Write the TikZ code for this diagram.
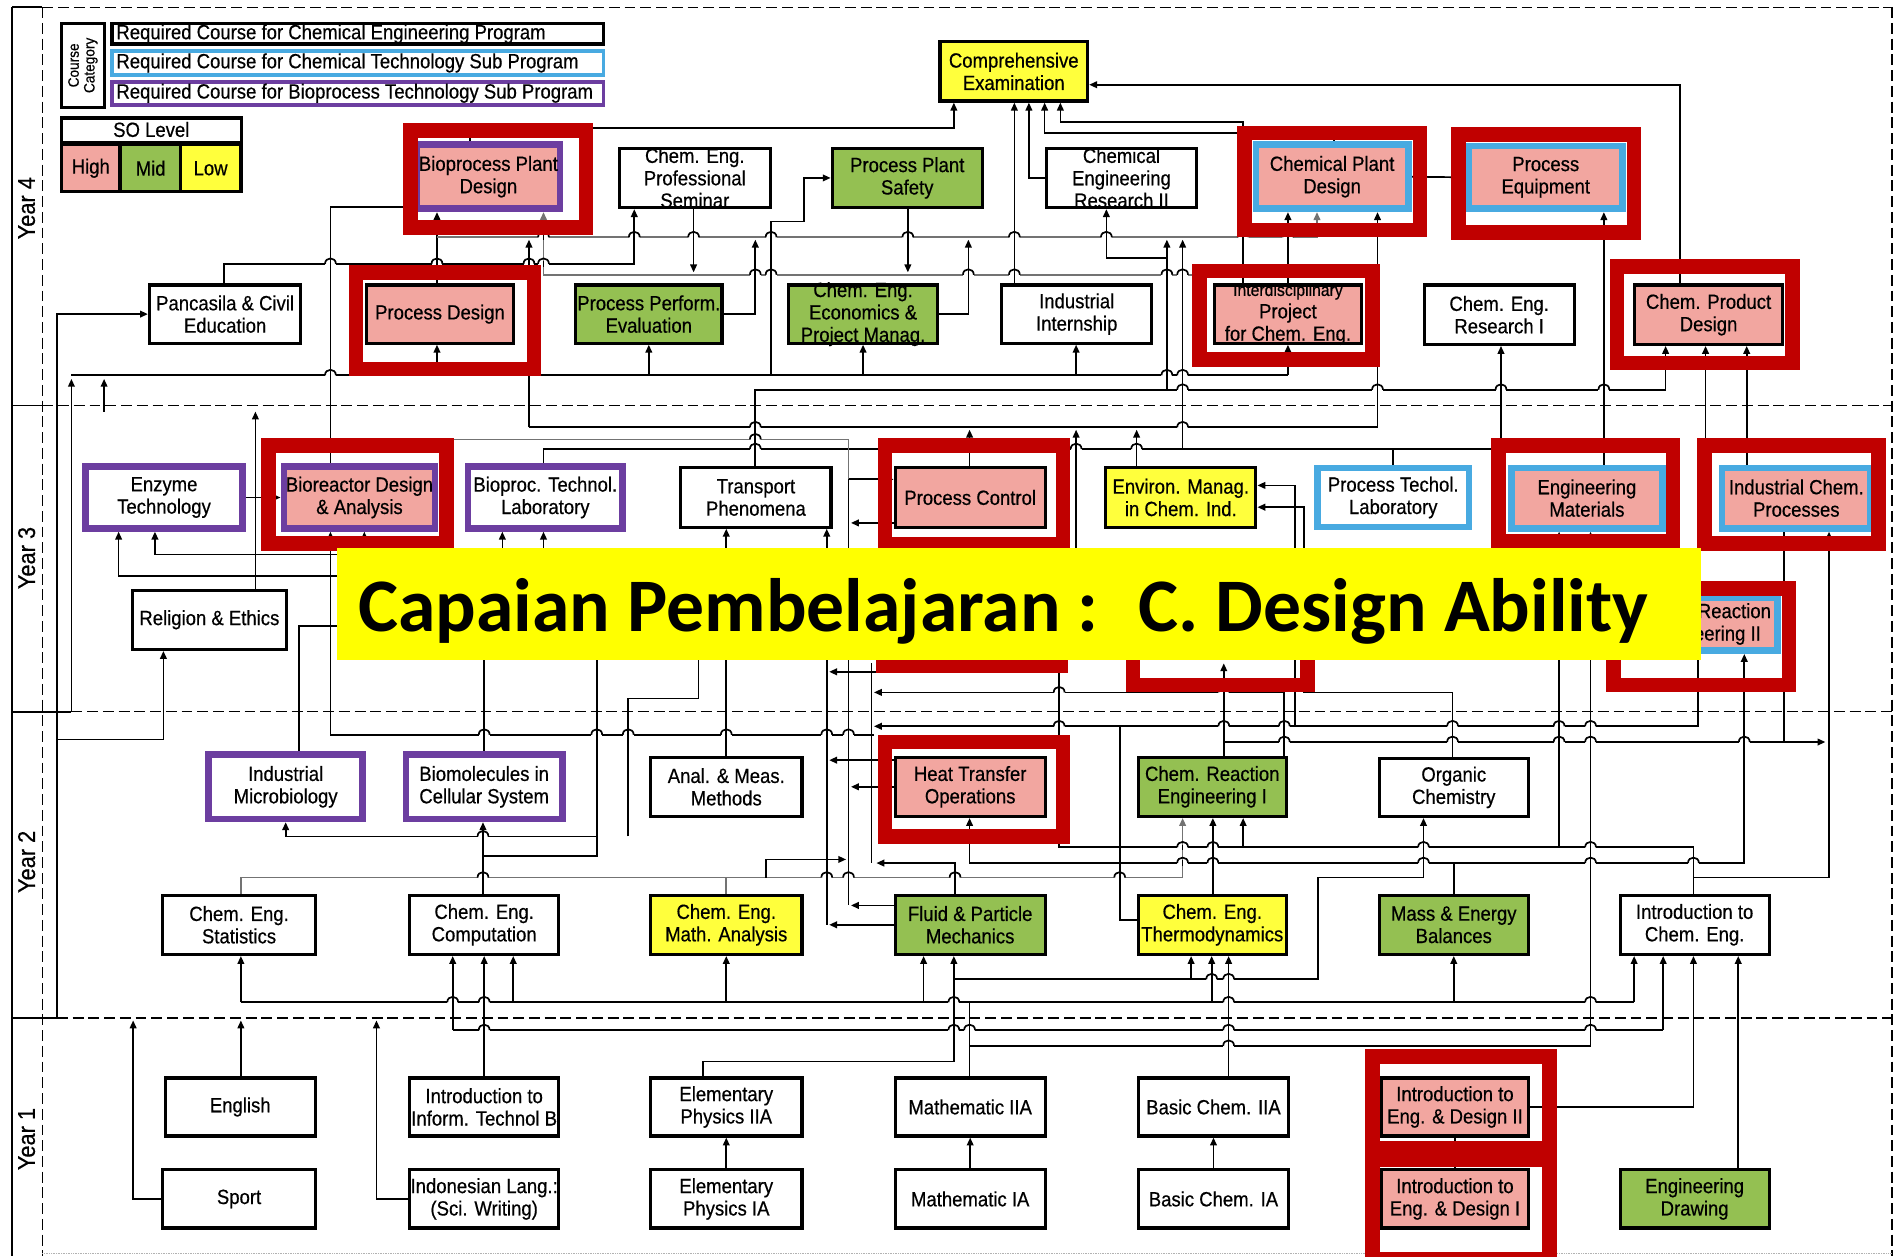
\documentclass[tikz,border=0pt]{standalone}
\usepackage{fontspec}
\setmainfont{Liberation Sans}[FakeStretch=0.9, FakeBold=0.5]
\newfontfamily\bannerfont{Carlito}
\usetikzlibrary{arrows.meta}
\pgfdeclarelayer{bg}
\pgfsetlayers{bg,main}

\definecolor{hi}{RGB}{242,166,160}
\definecolor{mid}{RGB}{148,192,82}
\definecolor{lo}{RGB}{255,255,60}
\definecolor{bluec}{RGB}{72,170,225}
\definecolor{purp}{RGB}{108,62,160}
\definecolor{redb}{RGB}{192,0,0}
\definecolor{busc}{RGB}{115,115,115}
\definecolor{ban}{RGB}{255,255,0}

\tikzset{
  crs/.style={draw=black, line width=2.6pt, inner sep=0pt},
  chem/.style={crs, draw=bluec, line width=5.5pt},
  bio/.style={crs, draw=purp, line width=5.5pt},
  txt/.style={align=center, font=\fontsize{17}{18.5}\selectfont, inner sep=0pt},
  lg/.style={font=\fontsize{17}{18}\selectfont, inner sep=0pt},
  ln/.style={line width=1.4pt, draw=black},
  gl/.style={line width=1.4pt, draw=busc},
  ar/.style={ln, -{Triangle[length=6.5pt,width=5.5pt]}},
  gar/.style={gl, -{Triangle[length=6.5pt,width=5.5pt]}},
  hl/.style={draw=redb, line width=12pt},
  dl/.style={line width=1.2pt, dash pattern=on 9pt off 4pt},
  yr/.style={rotate=90, font=\fontsize{20}{20}\selectfont},
}

% course box given by its corners, with its label on top
\newcommand\course[7]{%
  \node[#2, minimum width={#5pt-#3pt-3pt}, minimum height={#6pt-#4pt-3pt}] (#1) at ({(#3+#5)/2},{(#4+#6)/2}) {};
  \node[txt] (#1t) at (#1.center) {#7};}
% thick red frame given by its outer corners
\newcommand\hlbox[4]{\draw[hl] ({#1+6},{#2+6}) rectangle ({#3-6},{#4-6});}
% small bump where a horizontal line jumps over a vertical one
\newcommand\hop[2]{%
  \fill[white] ({#1-4.5},{#2-1.6}) rectangle ({#1+4.5},{#2+1.6});
  \draw[ln] ({#1-4.5},#2) .. controls ({#1-4.5},{#2-6}) and ({#1+4.5},{#2-6}) .. ({#1+4.5},#2);
  \draw[ln] (#1,{#2-2.2}) -- (#1,{#2+2.2});}

\begin{document}
\begin{tikzpicture}[x=1pt,y=-1pt]
\useasboundingbox (0,0) rectangle (1568,1038);

% ---------- frame and year bands ----------
\begin{pgfonlayer}{bg}
\fill[white] (0,0) rectangle (1568,1038);
\draw[line width=1.3pt] (10,6) -- (10,1038);
\draw[dl] (35,6) -- (35,1038);
\draw[line width=1.3pt] (10,6) -- (35,6);
\draw[dl] (35,6) -- (1563,6);
\draw[dl] (1563,6) -- (1563,1038);
\draw[line width=1.3pt] (10,335) -- (35,335);
\draw[dl] (35,335) -- (1563,335);
\draw[line width=1.3pt] (10,588) -- (59,588);
\draw[dl] (59,588) -- (1563,588);
\draw[line width=1.3pt] (10,841) -- (47,841);
\draw[dl] (47,841) -- (1563,841);
\draw[densely dotted, gray!60] (35,1035) -- (1563,1035);
\end{pgfonlayer}
\node[yr] (y4) at (22,172) {Year 4};
\node[yr] (y3) at (22,461) {Year 3};
\node[yr] (y2) at (22,712) {Year 2};
\node[yr] (y1) at (22,941) {Year 1};

% ---------- legend ----------
\node[draw, line width=2.6pt, minimum width=36pt, minimum height=69pt, inner sep=0pt] (cc) at (68.5,54) {};
\node[rotate=90, align=center, font=\fontsize{12.5}{13}\selectfont] (cct) at (cc.center) {Course\\Category};
\node[draw=black, line width=3pt, minimum width=406pt, minimum height=17pt, inner sep=0pt] (r1) at (295.5,28) {};
\node[draw=bluec, line width=3pt, minimum width=406pt, minimum height=20pt, inner sep=0pt] (r2) at (295.5,52) {};
\node[draw=purp, line width=3pt, minimum width=406pt, minimum height=19pt, inner sep=0pt] (r3) at (295.5,77) {};
\node[lg, anchor=west] (r1t) at (96,28) {Required Course for Chemical Engineering Program};
\node[lg, anchor=west] (r2t) at (96,52) {Required Course for Chemical Technology Sub Program};
\node[lg, anchor=west] (r3t) at (96,77) {Required Course for Bioprocess Technology Sub Program};

\node[draw, line width=2.6pt, minimum width=149pt, minimum height=61pt, inner sep=0pt] (so) at (125,128) {};
\draw[line width=2.6pt] (50,118) -- (200,118);
\node[lg] (sot) at (125,107) {SO Level};
\node[fill=hi, draw, line width=1.5pt, minimum width=47pt, minimum height=38pt, inner sep=0pt] (lh) at (75,139) {};
\node[fill=mid, draw, line width=1.5pt, minimum width=49pt, minimum height=38pt, inner sep=0pt] (lm) at (124.5,139) {};
\node[fill=lo, draw, line width=1.5pt, minimum width=48pt, minimum height=38pt, inner sep=0pt] (ll) at (174,139) {};
\node[lg] (lht) at (lh) {High};
\node[lg] (lmt) at (lm) {Mid};
\node[lg] (llt) at (ll) {Low};

% ---------- courses ----------
% year 4
\course{cexam}{crs,fill=lo}{775}{33}{900}{85}{Comprehensive\\Examination}
\course{bpd}{bio,fill=hi}{343}{118}{464}{174}{Bioprocess Plant\\Design}
\course{sem}{crs,fill=white}{510}{121}{638}{173}{Chem. Eng.\\Professional\\Seminar}
\course{pps}{crs,fill=mid}{686}{121}{813}{173}{Process Plant\\Safety}
\course{cer2}{crs,fill=white}{863}{121}{990}{173}{Chemical\\Engineering\\Research II}
\course{cpd}{chem,fill=hi}{1036}{118}{1165}{174}{Chemical Plant\\Design}
\course{peq}{chem,fill=hi}{1212}{119}{1342}{174}{Process\\Equipment}
\course{pcv}{crs,fill=white}{122}{234}{250}{285}{Pancasila \& Civil\\Education}
\course{prd}{crs,fill=hi}{301}{234}{426}{285}{Process Design}
\course{ppe}{crs,fill=mid}{474}{234}{598}{285}{Process Perform.\\Evaluation}
\course{cee}{crs,fill=mid}{650}{234}{776}{285}{Chem. Eng.\\Economics \&\\Project Manag.}
\course{iin}{crs,fill=white}{826}{234}{953}{285}{Industrial\\Internship}
\course{idp}{crs,fill=hi}{1002}{234}{1126}{285}{\fontsize{14.5}{16.5}\selectfont Interdisciplinary\\Project\\for Chem. Eng.}
\course{cer1}{crs,fill=white}{1175}{234}{1302}{286}{Chem. Eng.\\Research I}
\course{cprd}{crs,fill=hi}{1349}{234}{1474}{286}{Chem. Product\\Design}
% year 3
\course{enz}{bio,fill=white}{69}{384}{202}{438}{Enzyme\\Technology}
\course{bda}{bio,fill=hi}{233}{384}{361}{438}{Bioreactor Design\\\& Analysis}
\course{btl}{bio,fill=white}{385}{384}{516}{438}{Bioproc. Technol.\\Laboratory}
\course{tph}{crs,fill=white}{561}{385}{688}{437}{Transport\\Phenomena}
\course{pcn}{crs,fill=hi}{738}{385}{865}{437}{Process Control}
\course{env}{crs,fill=lo}{912}{385}{1039}{437}{Environ. Manag.\\in Chem. Ind.}
\course{ptl}{chem,fill=white}{1087}{385}{1215}{437}{Process Techol.\\Laboratory}
\course{emt}{chem,fill=hi}{1247}{385}{1375}{438}{Engineering\\Materials}
\course{icp}{chem,fill=hi}{1421}{385}{1547}{438}{Industrial Chem.\\Processes}
\course{rel}{crs,fill=white}{108}{486}{238}{538}{Religion \& Ethics}
\course{cre2}{chem,fill=hi}{1345}{492}{1470}{539}{Chem. Reaction\\Engineering II}
% year 2
\course{imb}{bio,fill=white}{171}{622}{301}{678}{Industrial\\Microbiology}
\course{bcs}{bio,fill=white}{334}{622}{466}{678}{Biomolecules in\\Cellular System}
\course{amm}{crs,fill=white}{536}{624}{664}{676}{Anal. \& Meas.\\Methods}
\course{hto}{crs,fill=hi}{738}{624}{865}{676}{Heat Transfer\\Operations}
\course{cre1}{crs,fill=mid}{939}{624}{1064}{676}{Chem. Reaction\\Engineering I}
\course{och}{crs,fill=white}{1138}{625}{1264}{676}{Organic\\Chemistry}
\course{ces}{crs,fill=white}{133}{738}{262}{790}{Chem. Eng.\\Statistics}
\course{cec}{crs,fill=white}{337}{738}{463}{790}{Chem. Eng.\\Computation}
\course{cma}{crs,fill=lo}{536}{738}{664}{790}{Chem. Eng.\\Math. Analysis}
\course{fpm}{crs,fill=mid}{738}{738}{865}{790}{Fluid \& Particle\\Mechanics}
\course{cet}{crs,fill=lo}{939}{738}{1064}{790}{Chem. Eng.\\Thermodynamics}
\course{meb}{crs,fill=mid}{1138}{738}{1264}{790}{Mass \& Energy\\Balances}
\course{ice}{crs,fill=white}{1337}{738}{1463}{790}{Introduction to\\Chem. Eng.}
% year 1
\course{eng}{crs,fill=white}{135}{889}{262}{940}{English}
\course{iit}{crs,fill=white}{337}{889}{463}{940}{Introduction to\\Inform. Technol B}
\course{ep2}{crs,fill=white}{536}{889}{664}{940}{Elementary\\Physics IIA}
\course{m2}{crs,fill=white}{738}{889}{865}{940}{Mathematic IIA}
\course{bc2}{crs,fill=white}{939}{889}{1066}{940}{Basic Chem. IIA}
\course{ied2}{crs,fill=hi}{1140}{889}{1264}{940}{Introduction to\\Eng. \& Design II}
\course{spt}{crs,fill=white}{133}{965}{262}{1016}{Sport}
\course{ind}{crs,fill=white}{337}{965}{463}{1016}{Indonesian Lang.:\\(Sci. Writing)}
\course{ep1}{crs,fill=white}{536}{965}{664}{1016}{Elementary\\Physics IA}
\course{m1}{crs,fill=white}{738}{965}{865}{1016}{Mathematic IA}
\course{bc1}{crs,fill=white}{939}{965}{1066}{1016}{Basic Chem. IA}
\course{ied1}{crs,fill=hi}{1140}{965}{1264}{1016}{Introduction to\\Eng. \& Design I}
\course{edr}{crs,fill=mid}{1337}{965}{1463}{1016}{Engineering\\Drawing}

% ---------- connectors (behind the boxes) ----------
\begin{pgfonlayer}{bg}
% year 4
\draw[ar] (bda.north -| 273,0) |- (bpd.west |- 0,171);
\draw[ar] (prd.north -| 361,0) -- (bpd.south -| 361,0);
\draw[ar] (bpd.north -| 388,0) |- (788,106) -- (cexam.south -| 788,0);
\draw[ar] (pcv.north -| 185,0) |- (524,218) -- (sem.south -| 524,0);
\draw[gar] (361,196) -| (cpd.south -| 1088,0);
\draw[gar] (1030,227) -| (bpd.south -| 449,0);
\draw[ar] (sem.south -| 573,0) -- (573,225);
\draw[ar] (pps.south -| 750,0) -- (750,225);
\draw[ar] (cer2.west) -| (cexam.south -| 850,0);
\draw[ar] (iin.north -| 838,0) -- (cexam.south -| 838,0);
\draw[ar] (cpd.north -| 1102,0) |- (863,110) -- (cexam.south -| 863,0);
\draw[ar] (idp.north -| 1027,0) |- (876,101) -- (cexam.south -| 876,0);
\draw[ar] (cprd.north -| 1388,0) |- (cexam.east |- 0,70);
\draw[ln] (cpd.east) -- (peq.west);
\draw[ar] (idp.north -| 1064,0) -- (cpd.south -| 1064,0);
\draw[ar] (emt.north -| 1325,0) -- (peq.south -| 1325,0);
\draw[ln] (437,353) -- (1138,353);
\draw[ar] (1138,353) -- (cpd.south -| 1138,0);
\draw[ar] (437,353) -- (437,198);
\draw[ar] (637,310) |- (664,183) |- (pps.west);
\draw[ar] (tph.north -| 624,0) |- (1376,322) -- (cprd.south -| 1376,0);
\draw[ar] (964,322) -- (964,198);
\draw[ar] (964,213) -| (cer2.south -| 914,0);
\draw[ar] (ppe.east) -| (624,198);
\draw[ar] (cee.east) -| (800,198);
\draw[ln] (btl.north -| 449,0) |- (1240,371);
\draw[ar] (1240,371) -- (cer1.south -| 1240,0);
\draw[ar] (977,371) -- (977,198);
\draw[ln] (ptl.north -| 1151,0) -- (1151,371);
\draw[ar] (pcn.north -| 801,0) -- (801,355);
\draw[ar] (env.north -| 939,0) -- (939,355);
\draw[ar] (889,545) -- (889,355);
\draw[ar] (icp.north -| 1443,0) -- (cprd.south -| 1443,0);
\draw[ar] (1409,420) -- (cprd.south -| 1409,0);
\draw[gl] (375,363) -| (701,396);
\draw[ar] (701,396) -- (pcn.west |- 0,396);
\draw[ln] (59,310) -- (1064,310);
\draw[ar] (361,310) -- (prd.south -| 361,0);
\draw[ar] (536,310) -- (ppe.south -| 536,0);
\draw[ar] (713,310) -- (cee.south -| 713,0);
\draw[ar] (889,310) -- (iin.south -| 889,0);
\draw[ar] (1064,310) -- (idp.south -| 1064,0);
\draw[ar] (59,588) -- (59,313);
\draw[ar] (86,340) -- (86,313);
\draw[ar] (rel.north -| 211,0) -- (211,340);
\draw[ar] (47,841) |- (pcv.west);
\draw[ar] (47,611) -| (rel.south -| 135,0);
\draw[ar] (enz.east) -- (bda.west);

% year 3
\draw[ar] (330,476) -| (enz.south -| 98,0);
\draw[ar] (330,458) -| (enz.south -| 128,0);
\draw[ar] (301,458) -- (bda.south -| 301,0);
\draw[ar] (273,607) -- (bda.south -| 273,0);
\draw[ln] (273,607) -- (722,607);
\draw[ln] (imb.north -| 247,0) |- (330,517);
\draw[ln] (bcs.north -| 400,0) -- (400,540);
\draw[ar] (415,470) -- (btl.south -| 415,0);
\draw[ar] (449,470) -- (btl.south -| 449,0);
\draw[ln] (493,540) |- (399,707);
\draw[ar] (493,691) -| (imb.south -| 236,0);
\draw[ln] (519,691) |- (577,577) -- (577,540);
\draw[ar] (cec.north -| 399,0) -- (bcs.south -| 399,0);
\draw[ar] (amm.north -| 600,0) -- (tph.south -| 600,0);
\draw[ar] (683,764) -- (tph.south -| 683,0);
\draw[ln] (701,396) -- (701,748);
\draw[ar] (pcn.west |- 0,432) -- (703,432);
\draw[ar] (724,555) -- (685,555);
\draw[ar] (hto.west |- 0,628) -- (685,628);
\draw[ar] (hto.west |- 0,650) -- (703,650);
\draw[ar] (fpm.west |- 0,748) -- (703,748);
\draw[ar] (fpm.west |- 0,764) -- (685,764);
\draw[ln] (720,548) -- (720,713);
\draw[ar] (cre1.north -| 1061,0) |- (722,572);
\draw[ar] (och.north -| 1200,0) |- (1077,572) |- (env.east |- 0,419);
\draw[ar] (1070,600) |- (env.east |- 0,401);
\draw[ar] (cre2.south -| 1403,0) |- (722,600);
\draw[ar] (cre1.north -| 1011,0) -- (1011,548);
\draw[ar] (1011,613) -- (1508,613);
\draw[ln] (icp.south -| 1474,0) -- (1474,613);

% year 2
\draw[ar] (1288,700) -- (emt.south -| 1288,0);
\draw[ar] (801,864) -| (emt.south -| 1314,0);
\draw[ar] (1399,725) -| (icp.south -| 1511,0);
\draw[ar] (1201,713) -| (cre2.south -| 1441,0);
\draw[ar] (meb.north -| 1201,0) |- (801,713) -- (hto.south -| 801,0);
\draw[ar] (fpm.north -| 789,0) |- (724,713);
\draw[ln] (ice.north -| 1399,0) |- (875,700) -- (875,556);
\draw[ar] (1027,700) -- (cre1.south -| 1027,0);
\draw[ar] (cet.north -| 1002,0) -- (cre1.south -| 1002,0);
\draw[gar] (ces.north -| 199,0) |- (977,725) -- (cre1.south -| 977,0);
\draw[gl] (cma.north -| 600,0) -- (600,725);
\draw[ar] (633,725) |- (699,710);
\draw[ln] (cet.west |- 0,760) -| (925,600);
\draw[ar] (ep2.north -| 581,0) |- (788,877) -- (fpm.south -| 788,0);
\draw[ar] (788,809) -| (cet.south -| 984,0);
\draw[ar] (984,809) -| (1089,725) -| (och.south -| 1176,0);
\draw[ln] (199,828) -- (1350,828);
\foreach \x/\n in {199/ces,424/cec,600/cma,763/fpm,1001/cet,1201/meb,1350/ice}
  \draw[ar] (\x,828) -- (\n.south -| \x,0);
\draw[ln] (m2.north -| 801,0) -- (801,828);
\draw[ln] (374,851) -- (1374,851);
\draw[ar] (374,851) -- (cec.south -| 374,0);
\draw[ar] (1374,851) -- (ice.south -| 1374,0);
\draw[ar] (iit.north -| 400,0) -- (cec.south -| 400,0);
\draw[ar] (bc2.north -| 1015,0) -- (cet.south -| 1015,0);

% year 1
\draw[ar] (ep1.north) -- (ep2.south);
\draw[ar] (m1.north) -- (m2.south);
\draw[ar] (bc1.north) -- (bc2.south);
\draw[ln] (ied1.north) -- (ied2.south);
\draw[ar] (ied2.east) -| (ice.south -| 1399,0);
\draw[ar] (edr.north -| 1436,0) -- (ice.south -| 1436,0);
\draw[ar] (eng.north -| 199,0) -- (199,843);
\draw[ar] (spt.west) -| (110,843);
\draw[ar] (ind.west) -| (311,843);

% line crossings
\foreach \px/\py in {273/218,361/218,437/218,449/218,
    449/196,524/196,573/196,637/196,750/196,838/196,914/196,1027/196,1064/196,
    624/227,637/227,800/227,838/227,964/227,977/227,
    273/310,437/310,964/310,977/310,
    977/322,1138/322,1240/322,1325/322,
    624/353,977/353,624/363,
    624/371,801/371,889/371,939/371,
    400/607,493/607,519/607,600/607,683/607,701/607,
    875/572,1011/572,
    875/600,1011/600,1061/600,1200/600,1288/600,1314/600,
    1061/613,1200/613,1288/613,1314/613,1441/613,
    399/691,
    977/700,1002/700,1176/700,1314/700,
    977/713,1002/713,1176/713,1314/713,1399/713,
    399/725,683/725,701/725,789/725,925/725,
    1001/809,1015/809,
    374/828,400/828,788/828,1015/828,1314/828,
    400/851,788/851,801/851,1015/851,1314/851,
    1015/864}
  \hop{\px}{\py};
\end{pgfonlayer}

% ---------- red emphasis frames ----------
\hlbox{333}{102}{490}{194}
\hlbox{288}{219}{447}{311}
\hlbox{1022}{104}{1179}{196}
\hlbox{1199}{105}{1356}{198}
\hlbox{985}{218}{1140}{303}
\hlbox{1330}{214}{1487}{306}
\hlbox{216}{362}{375}{455}
\hlbox{725}{362}{884}{456}
\hlbox{724}{466}{882}{556}
\hlbox{930}{470}{1086}{572}
\hlbox{1232}{362}{1388}{453}
\hlbox{1402}{362}{1558}{455}
\hlbox{1327}{480}{1484}{572}
\hlbox{725}{607}{884}{697}
\hlbox{1128}{867}{1286}{955}
\hlbox{1128}{952}{1286}{1046}

% ---------- banner ----------
\fill[ban] (278,453) rectangle (1405,545);
\node[anchor=base west, inner sep=0pt, font=\bannerfont\bfseries\fontsize{62.5}{62}\selectfont] (banner) at (296,522) {Capaian Pembelajaran :~ C. Design Ability};
\end{tikzpicture}
\end{document}
